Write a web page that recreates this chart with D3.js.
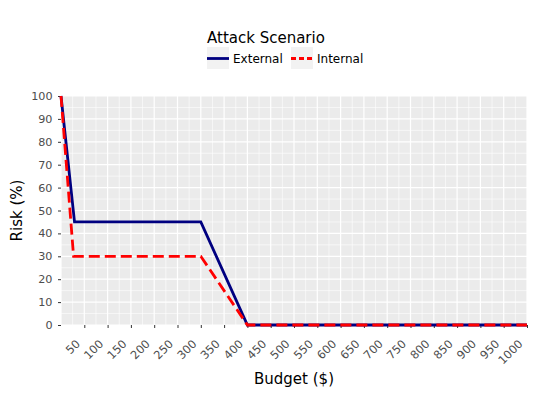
<!DOCTYPE html>
<html><head><meta charset="utf-8">
<script src="https://cdn.jsdelivr.net/npm/d3@7"></script>
<style>body{margin:0;background:#fff}svg{display:block;font-family:"DejaVu Sans",sans-serif}</style>
</head><body><svg id="c" width="538" height="396"></svg>
<script>
const budgetExternal = [0, 29, 300, 400, 1000];
const riskExternal = [100, 45, 45, 0, 0];
const budgetInternal = [0, 27, 300, 400, 1000];
const riskInternal = [100, 30, 30, 0, 0];
const xTicks = [50,100,150,200,250,300,350,400,450,500,550,600,650,700,750,800,850,900,950,1000];
const yTicks = [0,10,20,30,40,50,60,70,80,90,100];
const seriesNames = ["External", "Internal"];
const seriesColors = ["#000080", "#ff0000"];

const svg = d3.select("#c");
const L = 61, R = 527, T = 96, B = 325;
const x = d3.scaleLinear().domain([0, 1000]).range([L, R]);
const y = d3.scaleLinear().domain([0, 100]).range([B, T]);

svg.append("rect").attr("x", L).attr("y", T).attr("width", R - L).attr("height", B - T).attr("fill", "#ebebeb");
const g = svg.append("g");
const xMinor = d3.range(25, 1000, 50);
const yMinor = d3.range(5, 100, 10);
g.selectAll(".xm").data(xMinor).enter().append("line")
  .attr("x1", d => x(d)).attr("x2", d => x(d)).attr("y1", T).attr("y2", B)
  .attr("stroke", "#fff").attr("stroke-width", 0.6);
g.selectAll(".ym").data(yMinor).enter().append("line")
  .attr("y1", d => y(d)).attr("y2", d => y(d)).attr("x1", L).attr("x2", R)
  .attr("stroke", "#fff").attr("stroke-width", 0.6);
g.selectAll(".xM").data([0].concat(xTicks)).enter().append("line")
  .attr("x1", d => x(d)).attr("x2", d => x(d)).attr("y1", T).attr("y2", B)
  .attr("stroke", "#fff").attr("stroke-width", 1.2);
g.selectAll(".yM").data(yTicks).enter().append("line")
  .attr("y1", d => y(d)).attr("y2", d => y(d)).attr("x1", L).attr("x2", R)
  .attr("stroke", "#fff").attr("stroke-width", 1.2);

const xAxis = svg.append("g").attr("transform", `translate(0,${B})`)
  .call(d3.axisBottom(x).tickValues(xTicks).tickSize(3).tickFormat(d3.format("d")));
xAxis.select(".domain").remove();
xAxis.selectAll(".tick line").attr("stroke", "#333").attr("stroke-width", 1);
xAxis.selectAll(".tick text")
  .attr("fill", "#4d4d4d").attr("font-size", 11.4).attr("font-family", "DejaVu Sans")
  .attr("text-anchor", "end").attr("dy", null).attr("y", null)
  .attr("transform", "translate(-4,19.5) rotate(-45)");

const yAxis = svg.append("g").attr("transform", `translate(${L},0)`)
  .call(d3.axisLeft(y).tickValues(yTicks).tickSize(3).tickPadding(5.5));
yAxis.select(".domain").remove();
yAxis.selectAll(".tick line").attr("stroke", "#333").attr("stroke-width", 1);
yAxis.selectAll(".tick text").attr("fill", "#4d4d4d").attr("font-size", 11.2).attr("font-family", "DejaVu Sans");

const line = d3.line().x(d => x(d[0])).y(d => y(d[1]));
const extData = budgetExternal.map((b, i) => [b, riskExternal[i]]);
const intData = budgetInternal.map((b, i) => [b, riskInternal[i]]);
svg.append("path").datum(extData).attr("d", line).attr("fill", "none")
  .attr("stroke", seriesColors[0]).attr("stroke-width", 2.8);
svg.append("path").datum(intData).attr("d", line).attr("fill", "none")
  .attr("stroke", seriesColors[1]).attr("stroke-width", 2.8).attr("stroke-dasharray", "11,5");

svg.append("text").attr("x", (L + R) / 2).attr("y", 384).attr("text-anchor", "middle")
  .attr("font-size", 15).attr("fill", "#000").text("Budget ($)");
svg.append("text").attr("transform", `translate(22,${(T + B) / 2}) rotate(-90)`).attr("text-anchor", "middle")
  .attr("font-size", 15).attr("fill", "#000").text("Risk (%)");

svg.append("text").attr("x", 207).attr("y", 43).attr("font-size", 15).attr("fill", "#000").text("Attack Scenario");
const keyX = [207, 291];
seriesNames.forEach((n, i) => {
  const kx = keyX[i];
  svg.append("rect").attr("x", kx).attr("y", 47).attr("width", 22).attr("height", 22).attr("fill", "#f2f2f2");
  svg.append("line").attr("x1", kx).attr("x2", kx + 22).attr("y1", 58.5).attr("y2", 58.5)
    .attr("stroke", seriesColors[i]).attr("stroke-width", 2.8)
    .attr("stroke-dasharray", i === 1 ? "5,3" : null);
  svg.append("text").attr("x", kx + 26).attr("y", 63).attr("font-size", 12).attr("fill", "#000").text(n);
});
</script></body></html>
